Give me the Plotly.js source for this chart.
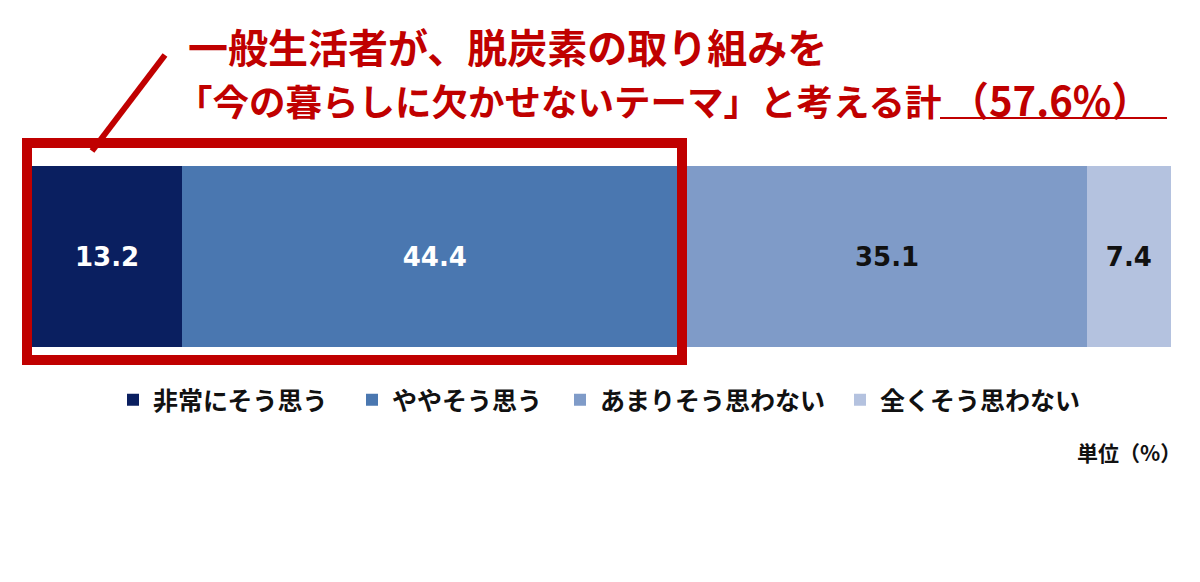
<!DOCTYPE html>
<html><head><meta charset="utf-8">
<script src="https://cdn.plot.ly/plotly-3.0.1.min.js"></script>
<style>html,body{margin:0;padding:0;background:#fff}#chart{width:1200px;height:582px}</style>
</head><body><div id="chart"></div>
<script>
const categories = ['非常にそう思う', 'ややそう思う', 'あまりそう思わない', '全くそう思わない'];
const values = [13.2, 44.4, 35.1, 7.4];
const barColors = ['#0A1F60', '#4A77B0', '#7F9BC8', '#B4C2DF'];
const labelColors = ['#ffffff', '#ffffff', '#111111', '#111111'];
const titleLine1 = '一般生活者が、脱炭素の取り組みを';
const titleLine2 = '「今の暮らしに欠かせないテーマ」と考える計';
const titleTotal = '（57.6%）';
const unitLabel = '単位（%）';

const W = 1200, H = 582;
const px = x => x / W;
const py = y => 1 - y / H;
const RED = '#C00000';
const JP = '"Noto Sans CJK JP", "Noto Sans", sans-serif';

const legendNames = ['legend', 'legend2', 'legend3', 'legend4'];
const legendCenters = [133, 372, 580, 860];

const total = values.reduce((a, b) => a + b, 0);

const traces = categories.map((c, i) => ({
  type: 'bar',
  orientation: 'h',
  name: c,
  x: [values[i]],
  y: [''],
  marker: { color: barColors[i], line: { width: 0 } },
  text: [values[i].toFixed(1)],
  textposition: 'inside',
  insidetextanchor: 'middle',
  textangle: 0,
  textfont: { family: 'DejaVu Sans', size: 26, color: labelColors[i], weight: 700 },
  legend: legendNames[i],
  hoverinfo: 'skip'
}));

const layout = {
  width: W, height: H,
  margin: { l: 0, r: 0, t: 0, b: 0 },
  paper_bgcolor: '#ffffff',
  plot_bgcolor: '#ffffff',
  barmode: 'stack',
  bargap: 0,
  showlegend: true,
  xaxis: { domain: [px(32), px(1171)], range: [0, total], visible: false, fixedrange: true },
  yaxis: { domain: [py(347), py(166)], visible: false, fixedrange: true },
  annotations: [
    { xref: 'paper', yref: 'paper', x: px(186), y: py(46), xanchor: 'left', yanchor: 'middle',
      text: titleLine1, showarrow: false, font: { family: JP, size: 40, color: RED, weight: 700 } },
    { xref: 'paper', yref: 'paper', x: px(174), y: py(100), xanchor: 'left', yanchor: 'middle',
      text: titleLine2, showarrow: false, font: { family: JP, size: 36.5, color: RED, weight: 700 } },
    { xref: 'paper', yref: 'paper', x: px(1050), y: py(99), xanchor: 'center', yanchor: 'middle',
      text: titleTotal, showarrow: false, font: { family: JP, size: 40, color: RED, weight: 700 } },
    { xref: 'paper', yref: 'paper', x: px(1183), y: py(452), xanchor: 'right', yanchor: 'middle',
      text: unitLabel, showarrow: false, font: { family: JP, size: 21, color: '#111111', weight: 700 } }
  ],
  shapes: [
    { type: 'line', xref: 'paper', yref: 'paper', x0: px(940), x1: px(1167), y0: py(118), y1: py(118),
      line: { color: RED, width: 2 } },
    { type: 'rect', xref: 'paper', yref: 'paper', x0: px(27), x1: px(682), y0: py(143), y1: py(360),
      line: { color: RED, width: 10 }, fillcolor: 'rgba(0,0,0,0)' },
    { type: 'line', xref: 'paper', yref: 'paper', x0: px(165), y0: py(55), x1: px(92), y1: py(151),
      line: { color: RED, width: 6 } }
  ]
};

legendNames.forEach((ln, i) => {
  layout[ln] = {
    x: px(legendCenters[i] - 20), y: py(400), xanchor: 'left', yanchor: 'middle',
    orientation: 'h', bgcolor: 'rgba(0,0,0,0)', borderwidth: 0,
    font: { family: JP, size: 25, color: '#111111', weight: 700 }
  };
});

Plotly.newPlot('chart', traces, layout, { staticPlot: true, displayModeBar: false });
</script>
</body></html>
